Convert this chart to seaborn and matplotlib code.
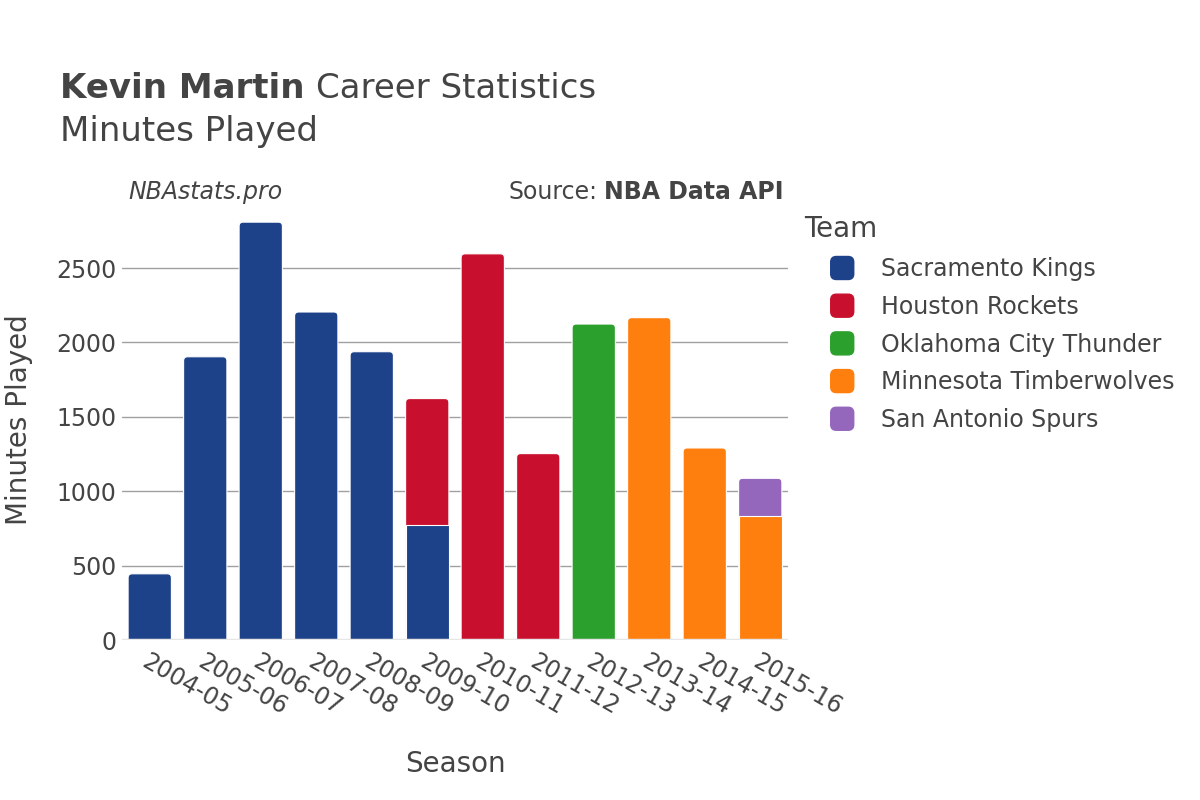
import pandas as pd
import matplotlib.pyplot as plt
from matplotlib.patches import FancyBboxPatch, Patch
from matplotlib.legend_handler import HandlerPatch
import seaborn as sns

# minutes played per season and team
seasons = ["2004-05", "2005-06", "2006-07", "2007-08", "2008-09", "2009-10",
           "2009-10", "2010-11", "2011-12", "2012-13", "2013-14", "2014-15",
           "2015-16", "2015-16"]
teams = ["Sacramento Kings", "Sacramento Kings", "Sacramento Kings", "Sacramento Kings",
         "Sacramento Kings", "Sacramento Kings", "Houston Rockets", "Houston Rockets",
         "Houston Rockets", "Oklahoma City Thunder", "Minnesota Timberwolves",
         "Minnesota Timberwolves", "Minnesota Timberwolves", "San Antonio Spurs"]
minutes = [445, 1904, 2809, 2205, 1938, 770, 853, 2596, 1253, 2124, 2167, 1291, 831, 256]

team_order = ["Sacramento Kings", "Houston Rockets", "Oklahoma City Thunder",
              "Minnesota Timberwolves", "San Antonio Spurs"]
team_colors = ["#1d428a", "#c8102e", "#2ca02c", "#ff7f0e", "#9467bd"]
season_order = ["2004-05", "2005-06", "2006-07", "2007-08", "2008-09", "2009-10",
                "2010-11", "2011-12", "2012-13", "2013-14", "2014-15", "2015-16"]


def build_frame():
    df = pd.DataFrame({"season": seasons, "team": teams, "minutes": minutes})
    df["rank"] = df["team"].map(team_order.index)
    df = df.sort_values(["season", "rank"])
    # stacked: each segment is drawn from 0 to its cumulative top
    df["top"] = df.groupby("season")["minutes"].cumsum()
    return df


def round_tops(fig, ax, radius_px=4):
    # swap the top segment of each bar for one with rounded corners
    fig.canvas.draw()
    x_per_px = 1 / (ax.transData.transform((1, 0))[0] - ax.transData.transform((0, 0))[0])
    y_per_px = 1 / (ax.transData.transform((0, 1))[1] - ax.transData.transform((0, 0))[1])
    bars = list(ax.patches)
    tallest = {}
    for p in bars:
        key = round(p.get_x() + p.get_width() / 2, 3)
        tallest[key] = max(tallest.get(key, 0), p.get_height())
    for p in bars:
        key = round(p.get_x() + p.get_width() / 2, 3)
        if p.get_height() < tallest[key]:
            # lower segments stay square, painted above the taller ones
            p.set_zorder(p.get_zorder() + 0.5)
            continue
        extra = 10 * y_per_px  # bottom pushed below the axis so only the top is round
        fancy = FancyBboxPatch(
            (p.get_x(), -extra), p.get_width(), p.get_height() + extra,
            boxstyle=f"round,pad=0,rounding_size={radius_px * x_per_px}",
            mutation_aspect=y_per_px / x_per_px,
            facecolor=p.get_facecolor(), edgecolor=p.get_edgecolor(),
            linewidth=p.get_linewidth(), zorder=p.get_zorder(),
        )
        ax.add_patch(fancy)
        p.set_visible(False)


def rounded_square(legend, orig_handle, xdescent, ydescent, width, height, fontsize):
    side = 23 * 72 / 100
    cx = -xdescent + width / 2
    cy = -ydescent + height / 2
    return FancyBboxPatch((cx - side / 2, cy - side / 2), side, side,
                          boxstyle="round,pad=0,rounding_size=4")


def plot(df):
    sns.set_style("white")
    plt.rcParams["font.family"] = ["DejaVu Sans"]
    text_color = "#444444"

    fig = plt.figure(figsize=(12, 8), dpi=100)
    ax = fig.add_axes([122 / 1200, 160 / 800, 666 / 1200, 440 / 800])

    palette = dict(zip(team_order, team_colors))
    # upper segments first, lower ones painted over them
    sns.barplot(
        data=df, x="season", y="top", hue="team",
        order=season_order, hue_order=team_order[::-1],
        palette=palette, saturation=1, dodge=False, width=0.78,
        edgecolor="white", linewidth=0.8, legend=False, ax=ax, zorder=3,
    )

    ax.set_xlim(-0.5, len(season_order) - 0.5)
    ax.set_ylim(0, df.groupby("season")["minutes"].sum().max() * 1.053)
    ax.set_yticks([0, 500, 1000, 1500, 2000, 2500])
    ax.yaxis.grid(True, color="#a0a0a0", linewidth=1)
    ax.axhline(0, color="#e6e6e6", linewidth=2.5, zorder=5)
    for s in ax.spines.values():
        s.set_visible(False)
    ax.tick_params(axis="both", length=0, labelsize=17, labelcolor=text_color)
    ax.tick_params(axis="y", pad=4)
    ax.tick_params(axis="x", pad=7)
    for lbl in ax.get_xticklabels():
        lbl.set_rotation(-30)
        lbl.set_ha("left")
        lbl.set_va("top")
        lbl.set_rotation_mode("anchor")

    ax.set_xlabel("Season", fontsize=20, color=text_color, labelpad=22)
    ax.set_ylabel("Minutes Played", fontsize=20, color=text_color, labelpad=17)

    # title with a bold name followed by regular text
    name = fig.text(60 / 1200, 1 - 88 / 800, "Kevin Martin", fontsize=24.5,
                    fontweight="bold", color=text_color, va="center")
    fig.text(60 / 1200, 1 - 132 / 800, "Minutes Played", fontsize=24.5,
             color=text_color, va="center")
    fig.text(128 / 1200, 1 - 192 / 800, "NBAstats.pro", fontsize=17, style="italic",
             color=text_color, va="center")
    api = fig.text(784 / 1200, 1 - 192 / 800, "NBA Data API", fontsize=17,
                   fontweight="bold", color=text_color, va="center", ha="right")
    fig.canvas.draw()
    r = fig.canvas.get_renderer()
    x1 = name.get_window_extent(r).x1
    fig.text((x1 + 12) / 1200, 1 - 88 / 800, "Career Statistics", fontsize=24.5,
             color=text_color, va="center")
    x0 = api.get_window_extent(r).x0
    fig.text((x0 - 7) / 1200, 1 - 192 / 800, "Source:", fontsize=17,
             color=text_color, va="center", ha="right")

    handles = [Patch(facecolor=c, edgecolor=c) for c in team_colors]
    leg = fig.legend(
        handles, team_order, title="Team", loc="upper left",
        bbox_to_anchor=(795 / 1200, 1 - 206 / 800), frameon=False,
        fontsize=17, title_fontsize=20, labelspacing=0.58,
        handlelength=3.2, handleheight=0.9, handletextpad=0.05,
        borderaxespad=0, alignment="left",
        handler_map={Patch: HandlerPatch(patch_func=rounded_square)},
    )
    for t in leg.get_texts():
        t.set_color(text_color)
    leg.get_title().set_color(text_color)

    round_tops(fig, ax)
    fig.savefig("out.png", dpi=100)


if __name__ == "__main__":
    plot(build_frame())
